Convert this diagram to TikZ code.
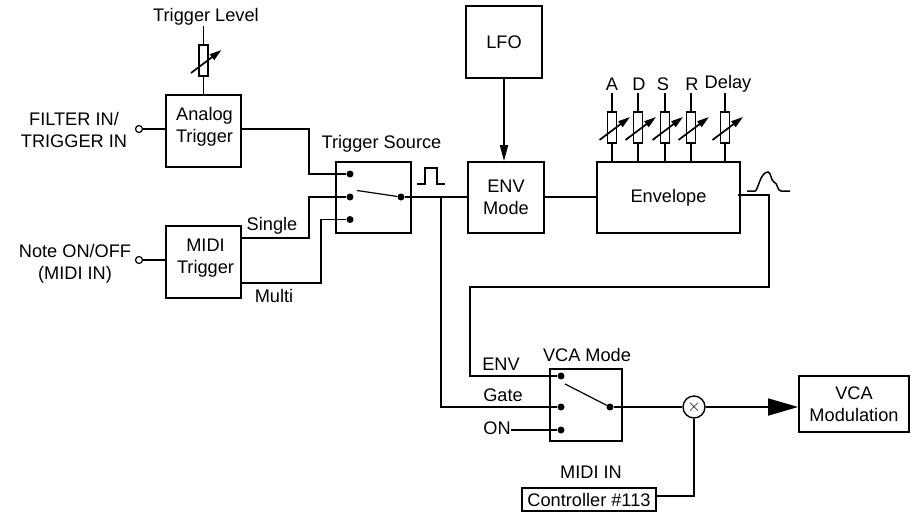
\documentclass[tikz,border=0pt]{standalone}
\usepackage{fontspec}
\setmainfont{Liberation Sans}
\usetikzlibrary{positioning,arrows.meta}

\begin{document}
\begin{tikzpicture}[x=1pt, y=-1pt,
            wire/.style={line width=1.8pt, line join=miter},
            arrowstyle/.style={wire, -{Triangle[length=16pt, width=8pt]}},
            bigarrowstyle/.style={wire, -{Triangle[length=30pt, width=17pt]}},
            tunearrow/.style={line width=1.7pt, -{Triangle[length=12pt, width=7pt]}}]
            \useasboundingbox (0,0) rectangle (919,512);
            % Box and text styles
            \tikzset{every node/.style={font=\fontsize{18.2}{21.5}\selectfont}}
            \tikzstyle{boxnode} = [draw, rectangle, line width=1.9pt, align=center, inner sep=0pt]
            \tikzstyle{textnode} = [inner sep=0pt, align=center]
            \tikzstyle{potnode} = [draw, rectangle, line width=1.8pt, fill=white, minimum width=9pt, minimum height=31pt, inner sep=0pt]
            \tikzstyle{swdot} = [circle, fill=black, minimum size=7pt, inner sep=0pt]
            \tikzstyle{opendot} = [circle, draw, line width=1.2pt, fill=white, minimum size=7pt, inner sep=0pt]

            % Define the nodes
            \node (analogtrig) [boxnode, minimum width=75pt, minimum height=72pt,
                label={[textnode, yshift=4pt, xshift=1pt]center:Analog\\Trigger}] at (203.5,131) {};
            \node (miditrig) [boxnode, minimum width=75pt, minimum height=72pt,
                label={[textnode, yshift=4pt, xshift=2pt]center:MIDI\\Trigger}] at (203.5,262) {};
            \node (trigsw) [boxnode, minimum width=75pt, minimum height=71pt] at (373.5,197.5) {};
            \node (lfo) [boxnode, minimum width=76pt, minimum height=72pt] at (504,42) {LFO};
            \node (envmode) [boxnode, minimum width=76pt, minimum height=71pt] at (506,197.5) {ENV\\Mode};
            \node (envelope) [boxnode, minimum width=143pt, minimum height=71pt] at (668.5,197.5) {Envelope};
            \node (vcasw) [boxnode, minimum width=72pt, minimum height=72pt] at (586,405) {};
            \node (vcamod) [boxnode, minimum width=110pt, minimum height=56pt] at (854,404) {VCA\\Modulation};
            \node (ctrl) [boxnode, minimum width=134pt, minimum height=23pt] at (589,499.5) {Controller \#113};
            \node (mult) [circle, draw, line width=1.4pt, minimum size=22pt, inner sep=0pt] at (694,407) {$\times$};

            % Labels
            \node (trigsrctxt) [textnode, above=9pt of trigsw, xshift=8pt] {Trigger Source};
            \node (vcamodetxt) [textnode, above=6pt of vcasw, xshift=1pt] {VCA Mode};
            \node (midiintxt) [textnode, above=8pt of ctrl, xshift=2pt] {MIDI IN};
            \node (filtertxt) [textnode] at (74,130) {FILTER IN/\\TRIGGER IN};
            \node (notetxt) [textnode] at (75,264) {Note ON/OFF\\(MIDI IN)};
            \node (singletxt) [textnode] at (272,226) {Single};
            \node (multitxt) [textnode] at (274,296) {Multi};
            \node (envtxt) [textnode] at (501,364) {ENV};
            \node (gatetxt) [textnode] at (503,395) {Gate};
            \node (ontxt) [textnode] at (497,428) {ON};
            \node (leveltxt) [textnode] at (206,17) {Trigger Level};

            % Switch contacts and input sockets
            \node (dotA) [swdot] at (350,174) {};
            \node (dotB) [swdot] at (350,197) {};
            \node (dotC) [swdot] at (350,219.5) {};
            \node (dotT) [swdot] at (401,197) {};
            \node (dotE) [swdot] at (561,376) {};
            \node (dotG) [swdot] at (561,407) {};
            \node (dotO) [swdot] at (561,430) {};
            \node (dotV) [swdot] at (610,407) {};
            \node (inA) [opendot] at (139,129) {};
            \node (inM) [opendot] at (139,260) {};

            % Bends of the wires
            \coordinate (analogout) at (241,129);
            \coordinate (analogbend) at (309,174);
            \coordinate (singleout) at (241,238);
            \coordinate (singlebend) at (309,197);
            \coordinate (multiout) at (241,283);
            \coordinate (multibend) at (321,219.5);
            \coordinate (gatetap) at (441,197);
            \coordinate (envout) at (738,195);
            \coordinate (wrapR) at (769,287);
            \coordinate (wrapL) at (470,287);
            \coordinate (ctrlout) at (656,496);
            \coordinate (levelend) at (203.5,26);
            \coordinate (armT) at (357,190.5);
            \coordinate (armV) at (565,384);

            % Draw the wires
            \draw [wire] (inA) -- (analogtrig.west |- inA);
            \draw [wire] (inM) -- (miditrig.west |- inM);
            \draw [wire] (analogout) -| (analogbend) -- (dotA);
            \draw [wire] (singleout) -| (singlebend) -- (dotB);
            \draw [wire] (multiout) -| (multibend) -- (dotC);
            \draw [wire] (dotT) -- (envmode.west |- dotT);
            \draw [wire] (gatetap) |- (dotG);
            \draw [wire] (envmode.east |- dotT) -- (envelope.west |- dotT);
            \draw [wire] (envout) -| (wrapR) -- (wrapL) |- (dotE);
            \draw [wire] (ontxt.east |- dotO) -- (dotO);
            \draw [wire] (dotV) -- (mult);
            \draw [wire] (mult) |- (ctrlout);
            \draw [arrowstyle] (lfo) -- (lfo |- envmode.north);
            \draw [bigarrowstyle] (mult) -- (vcamod.west |- mult);
            \draw [line width=1.2pt] (armT) -- (dotT);
            \draw [line width=1.2pt] (armV) -- (dotV);

            % Variable resistors
            \node (potL) [potnode] at (203.5,60.5) {};
            \draw [wire] (levelend) -- (potL);
            \draw [wire] (potL) -- (analogtrig.north -| potL);
            \coordinate (potLa) at ([shift={(-12.5,12.5)}]potL.center);
            \coordinate (potLb) at ([shift={(18,-10.5)}]potL.center);
            \draw [tunearrow] (potLa) -- (potLb);
            \foreach \pot/\px/\ptext/\tx in {A/612/A/612, D/638/D/639, S/665/S/663, R/691/R/692, Y/725/Delay/728} {
                \node (txt\pot) [textnode] at (\tx,84) {\ptext};
                \node (pot\pot) [potnode] at (\px,127.5) {};
                \coordinate (top\pot) at (\px,93);
                \coordinate (pot\pot a) at ([shift={(-12.5,12.5)}]pot\pot.center);
                \coordinate (pot\pot b) at ([shift={(18,-10.5)}]pot\pot.center);
                \draw [wire] (top\pot) -- (pot\pot);
                \draw [wire] (pot\pot) -- (envelope.north -| pot\pot);
                \draw [tunearrow] (pot\pot a) -- (pot\pot b);
            }

            % Pulse and envelope sketches
            \draw [line width=1.5pt] (417,184) -- (425,184) -- (425,168) -- (437,168) -- (437,184) -- (445,184);
            \draw [line width=1.5pt] (747,191) -- (755,191) .. controls (758,191) and (760,172) .. (768,172)
                .. controls (771,172) and (771,181) .. (774,182) .. controls (778,183) and (777,191) .. (781,191) -- (790,191);
        \end{tikzpicture}
\end{document}
